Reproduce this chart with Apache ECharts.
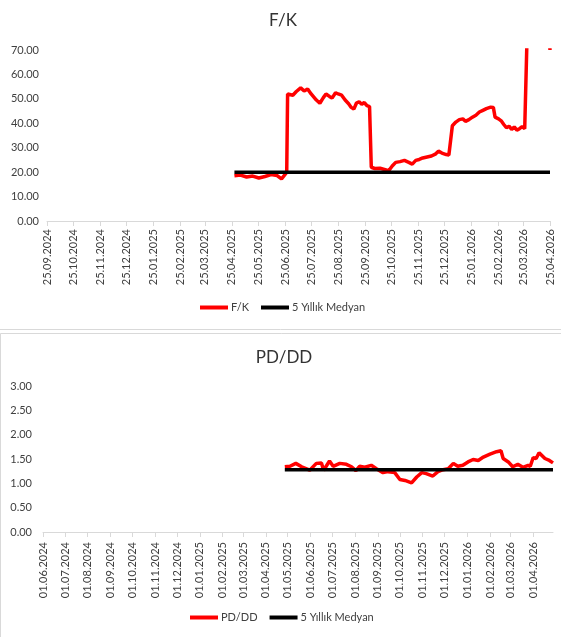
<!DOCTYPE html>
<html>
<head>
<meta charset="utf-8">
<title>F/K - PD/DD</title>
<script src="https://cdn.jsdelivr.net/npm/echarts@6/dist/echarts.min.js"></script>
<style>
  * { margin: 0; padding: 0; }
  html, body { width: 561px; height: 637px; background: #fff; overflow: hidden; }
  #main { width: 561px; height: 637px; }
</style>
</head>
<body>
<div id="main"></div>
<script>
// ---- F/K (üst grafik) ----
var fkDates = [
  '28.04.2025', '05.05.2025', '12.05.2025', '19.05.2025', '26.05.2025', '02.06.2025', '09.06.2025',
  '16.06.2025', '21.06.2025', '26.06.2025', '27.06.2025', '28.06.2025', '04.07.2025', '08.07.2025',
  '13.07.2025', '17.07.2025', '21.07.2025', '25.07.2025', '31.07.2025', '04.08.2025', '08.08.2025',
  '11.08.2025', '15.08.2025', '18.08.2025', '22.08.2025', '25.08.2025', '29.08.2025', '02.09.2025',
  '06.09.2025', '09.09.2025', '12.09.2025', '15.09.2025', '18.09.2025', '21.09.2025', '24.09.2025',
  '27.09.2025', '30.09.2025', '02.10.2025', '06.10.2025', '12.10.2025', '18.10.2025', '22.10.2025',
  '26.10.2025', '30.10.2025', '04.11.2025', '09.11.2025', '14.11.2025', '18.11.2025', '22.11.2025',
  '26.11.2025', '30.11.2025', '05.12.2025', '10.12.2025', '15.12.2025', '18.12.2025', '22.12.2025',
  '27.12.2025', '30.12.2025', '01.01.2026', '03.01.2026', '07.01.2026', '11.01.2026', '15.01.2026',
  '18.01.2026', '22.01.2026', '26.01.2026', '30.01.2026', '03.02.2026', '07.02.2026', '11.02.2026',
  '16.02.2026', '19.02.2026', '21.02.2026', '25.02.2026', '28.02.2026', '03.03.2026', '06.03.2026',
  '09.03.2026', '12.03.2026', '15.03.2026', '18.03.2026', '21.03.2026', '24.03.2026', '27.03.2026',
  '29.03.2026', '30.03.2026', '06.04.2026', '13.04.2026', '20.04.2026', '24.04.2026', '25.04.2026'
];
var fkValues = [
  18.5, 18.8, 18.0, 18.4, 17.6, 18.2, 19.0,
  18.6, 17.2, 19.5, 20.5, 52.0, 51.5, 53.0,
  54.5, 53.2, 54.0, 52.0, 49.5, 48.2, 50.5,
  52.0, 51.0, 50.3, 52.5, 52.0, 51.5, 49.5,
  48.0, 46.5, 45.8, 48.3, 48.8, 47.8, 48.5,
  47.2, 46.8, 22.0, 21.5, 21.6, 21.0, 20.6,
  22.5, 24.0, 24.3, 24.8, 24.0, 23.3, 24.8,
  25.2, 25.8, 26.2, 26.6, 27.5, 28.6, 27.8,
  27.2, 27.0, 27.8, 39.0, 40.5, 41.5, 41.8,
  40.8, 41.5, 42.5, 43.3, 44.6, 45.3, 46.0,
  46.6, 46.5, 42.5, 41.8, 41.0, 39.5, 38.2,
  38.8, 37.5, 38.5, 37.2, 37.8, 38.6, 37.8,
  38.0, 80.0, 82.0, 79.0, 81.0, 77.0, 70.0
];
var fkMedianDates = ['28.04.2025', '25.04.2026'];
var fkMedianValues = [20.0, 20.0];
var fkTicks = [
  '25.09.2024', '25.10.2024', '25.11.2024', '25.12.2024', '25.01.2025', '25.02.2025', '25.03.2025',
  '25.04.2025', '25.05.2025', '25.06.2025', '25.07.2025', '25.08.2025', '25.09.2025', '25.10.2025',
  '25.11.2025', '25.12.2025', '25.01.2026', '25.02.2026', '25.03.2026', '25.04.2026'
];

// ---- PD/DD (alt grafik) ----
var pdDates = [
  '27.04.2025', '04.05.2025', '12.05.2025', '20.05.2025', '31.05.2025', '09.06.2025', '16.06.2025',
  '19.06.2025', '27.06.2025', '02.07.2025', '11.07.2025', '20.07.2025', '27.07.2025', '02.08.2025',
  '07.08.2025', '14.08.2025', '23.08.2025', '30.08.2025', '08.09.2025', '15.09.2025', '24.09.2025',
  '01.10.2025', '08.10.2025', '17.10.2025', '24.10.2025', '31.10.2025', '06.11.2025', '15.11.2025',
  '22.11.2025', '29.11.2025', '06.12.2025', '13.12.2025', '19.12.2025', '26.12.2025', '02.01.2026',
  '09.01.2026', '16.01.2026', '23.01.2026', '01.02.2026', '10.02.2026', '16.02.2026', '19.02.2026',
  '26.02.2026', '04.03.2026', '11.03.2026', '18.03.2026', '25.03.2026', '28.03.2026', '01.04.2026',
  '05.04.2026', '09.04.2026', '17.04.2026', '23.04.2026', '28.04.2026'
];
var pdValues = [
  1.34, 1.35, 1.41, 1.34, 1.27, 1.41, 1.42,
  1.27, 1.46, 1.35, 1.41, 1.39, 1.34, 1.26,
  1.35, 1.33, 1.37, 1.30, 1.22, 1.24, 1.22,
  1.08, 1.06, 1.01, 1.13, 1.22, 1.20, 1.15,
  1.24, 1.28, 1.30, 1.41, 1.35, 1.37, 1.44,
  1.49, 1.47, 1.54, 1.60, 1.65, 1.67, 1.51,
  1.44, 1.34, 1.39, 1.33, 1.37, 1.35, 1.53,
  1.51, 1.63, 1.51, 1.47, 1.42
];
var pdMedianDates = ['27.04.2025', '28.04.2026'];
var pdMedianValues = [1.28, 1.28];
var pdTicks = [
  '01.06.2024', '01.07.2024', '01.08.2024', '01.09.2024', '01.10.2024', '01.11.2024', '01.12.2024',
  '01.01.2025', '01.02.2025', '01.03.2025', '01.04.2025', '01.05.2025', '01.06.2025', '01.07.2025',
  '01.08.2025', '01.09.2025', '01.10.2025', '01.11.2025', '01.12.2025', '01.01.2026', '01.02.2026',
  '01.03.2026', '01.04.2026'
];
var pdAxisEnd = '28.04.2026';

// gg.aa.yyyy -> zaman damgası
function toTime(s) {
  var p = s.split('.');
  return Date.UTC(+p[2], +p[1] - 1, +p[0]);
}
function pairs(dates, values) {
  return dates.map(function (d, i) { return [toTime(d), values[i]]; });
}
function tickLabel(ticks) {
  var map = {};
  ticks.forEach(function (t) { map[toTime(t)] = t; });
  return function (v) { return map[v] || ''; };
}

var textColor = '#404040';
var font = 'Lato';

// tarih ekseni: zaman damgası üzerinde value eksen, etiketler ayın belli günlerinde
function dateAxis(gridIndex, ticks, max, margin) {
  var times = ticks.map(toTime);
  return {
    type: 'value',
    gridIndex: gridIndex,
    min: times[0],
    max: max,
    axisLine: { show: true, onZero: false, lineStyle: { color: '#d9d9d9', width: 1 } },
    axisTick: { show: true, length: 5, lineStyle: { color: '#d9d9d9' }, customValues: times },
    axisLabel: {
      rotate: 90, margin: margin, color: textColor, fontSize: 11, fontFamily: font,
      customValues: times, formatter: tickLabel(ticks)
    },
    splitLine: { show: false }
  };
}
function valueAxis(gridIndex, max, interval, margin) {
  return {
    type: 'value',
    gridIndex: gridIndex,
    min: 0,
    max: max,
    interval: interval,
    axisLine: { show: false },
    axisTick: { show: false },
    splitLine: { show: false },
    axisLabel: {
      margin: margin, color: textColor, fontSize: 11, fontFamily: font,
      formatter: function (v) { return v.toFixed(2); }
    }
  };
}

var myChart = echarts.init(document.getElementById('main'));
myChart.setOption({
  animation: false,
  backgroundColor: '#fff',
  title: [
    { text: 'F/K', left: 283, top: 12, textAlign: 'center', padding: 0,
      textStyle: { fontSize: 17, fontWeight: 'normal', color: '#333', fontFamily: font } },
    { text: 'PD/DD', left: 284, top: 349, textAlign: 'center', padding: 0,
      textStyle: { fontSize: 17, fontWeight: 'normal', color: '#333', fontFamily: font } }
  ],
  legend: [
    { data: ['F/K', '5 Yıllık Medyan'], left: 200, top: 302, padding: 0,
      icon: 'rect', itemWidth: 28, itemHeight: 4, itemGap: 12,
      textStyle: { fontSize: 11, color: textColor, fontFamily: font, padding: [0, 0, 0, -2] } },
    { data: ['PD/DD', '5 Yıllık Medyan'], left: 190, top: 612, padding: 0,
      icon: 'rect', itemWidth: 28, itemHeight: 4, itemGap: 12,
      textStyle: { fontSize: 11, color: textColor, fontFamily: font, padding: [0, 0, 0, -2] } }
  ],
  grid: [
    { left: 47, right: 11, top: 50, bottom: 416 },
    { left: 43, right: 8, top: 386, bottom: 105 }
  ],
  xAxis: [
    dateAxis(0, fkTicks, toTime(fkTicks[fkTicks.length - 1]), 8),
    dateAxis(1, pdTicks, toTime(pdAxisEnd), 10)
  ],
  yAxis: [
    valueAxis(0, 70, 10, 8),
    valueAxis(1, 3, 0.5, 11)
  ],
  // çerçeve çizgileri
  graphic: [
    { type: 'line', shape: { x1: 0, y1: 329.5, x2: 561, y2: 329.5 }, style: { stroke: '#d9d9d9', lineWidth: 1 } },
    { type: 'rect', shape: { x: 0.5, y: 333.5, width: 600, height: 400 }, style: { fill: 'none', stroke: '#d9d9d9', lineWidth: 1 } }
  ],
  series: [
    { name: 'F/K', type: 'line', xAxisIndex: 0, yAxisIndex: 0, data: pairs(fkDates, fkValues),
      symbol: 'none', lineStyle: { color: '#ff0000', width: 3.5 }, itemStyle: { color: '#ff0000' }, z: 2 },
    { name: '5 Yıllık Medyan', type: 'line', xAxisIndex: 0, yAxisIndex: 0, data: pairs(fkMedianDates, fkMedianValues),
      symbol: 'none', lineStyle: { color: '#000', width: 3.5 }, itemStyle: { color: '#000' }, z: 3 },
    { name: 'PD/DD', type: 'line', xAxisIndex: 1, yAxisIndex: 1, data: pairs(pdDates, pdValues),
      symbol: 'none', lineStyle: { color: '#ff0000', width: 3.5 }, itemStyle: { color: '#ff0000' }, z: 2 },
    { name: '5 Yıllık Medyan', type: 'line', xAxisIndex: 1, yAxisIndex: 1, data: pairs(pdMedianDates, pdMedianValues),
      symbol: 'none', lineStyle: { color: '#000', width: 3.5 }, itemStyle: { color: '#000' }, z: 3 }
  ]
});
</script>
</body>
</html>
